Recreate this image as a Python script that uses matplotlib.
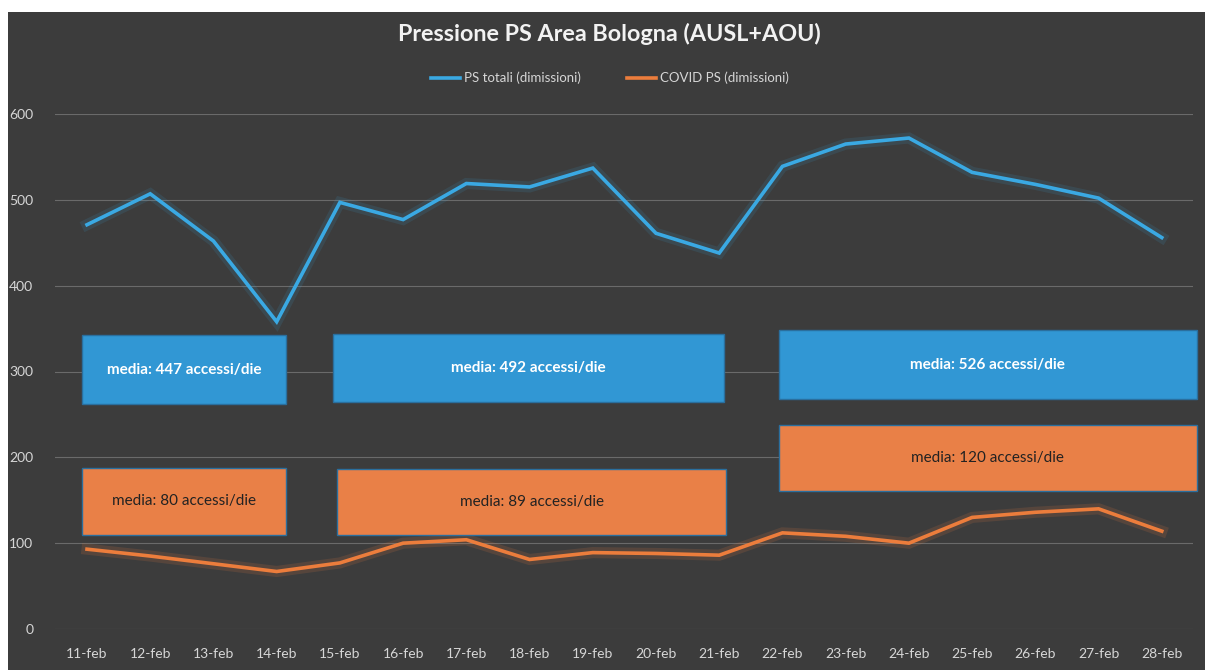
import matplotlib
matplotlib.use("Agg")
import matplotlib.pyplot as plt
from matplotlib.patches import Rectangle

# data
days = ["11-feb", "12-feb", "13-feb", "14-feb", "15-feb", "16-feb", "17-feb", "18-feb", "19-feb",
        "20-feb", "21-feb", "22-feb", "23-feb", "24-feb", "25-feb", "26-feb", "27-feb", "28-feb"]
ps_totali = [471, 507, 452, 358, 497, 477, 519, 515, 537, 461, 438, 539, 565, 572, 532, 518, 502, 456]
covid_ps = [93, 85, 76, 67, 77, 100, 104, 81, 89, 88, 86, 112, 108, 100, 130, 136, 140, 114]

media_totali = [447, 492, 526]
media_covid = [80, 89, 120]
yticks = [0, 100, 200, 300, 400, 500, 600]

plt.rcParams['font.family'] = ['Lato', 'DejaVu Sans']

BG = '#3c3c3c'
BLUE = '#3aa9e3'
ORANGE = '#ec7d3c'
BOX_BLUE = '#3197d4'
BOX_ORANGE = '#e98047'
TXT = '#d6d6d6'

fig = plt.figure(figsize=(12.05, 6.7), dpi=100, facecolor='white')
fig.patches.append(Rectangle((8 / 1205, 0), 1, 1 - 12 / 670, transform=fig.transFigure,
                             facecolor=BG, edgecolor='none', zorder=-10))

ax = fig.add_axes([55.4 / 1205, 1 - 629 / 670, 1138 / 1205, 515 / 670])
ax.set_facecolor('none')
x = list(range(len(days)))

# soft glow under the lines, like the Excel effect
ax.plot(x, ps_totali, color=BLUE, lw=8, alpha=0.12, solid_joinstyle='miter', zorder=3)
ax.plot(x, covid_ps, color=ORANGE, lw=8, alpha=0.15, solid_joinstyle='miter', zorder=3)
ax.plot(x, ps_totali, color=BLUE, lw=2.6, solid_joinstyle='miter', zorder=4, label='PS totali (dimissioni)')
ax.plot(x, covid_ps, color=ORANGE, lw=2.6, solid_joinstyle='miter', zorder=4, label='COVID PS (dimissioni)')

ax.set_xlim(-0.5, 17.5)
ax.set_ylim(0, 600)
ax.set_yticks(yticks)
ax.set_xticks(x)
ax.set_xticklabels(days)
ax.grid(axis='y', color='#8a8a8a', lw=0.8, alpha=0.6)
ax.set_axisbelow(True)
for s in ax.spines.values():
    s.set_visible(False)
ax.tick_params(length=0, colors=TXT, labelsize=10)
ax.tick_params(axis='x', pad=14)
ax.tick_params(axis='y', pad=16)

# average boxes: (x0, x1) in category units, per period
blue_boxes = [(-0.08, 3.15, 262, 342), (3.89, 10.08, 265, 344), (10.95, 17.55, 268, 348)]
orange_boxes = [(-0.08, 3.15, 110, 188), (3.96, 10.11, 109, 186), (10.95, 17.55, 161, 238)]

for (x0, x1, y0, y1), m in zip(blue_boxes, media_totali):
    ax.add_patch(Rectangle((x0, y0), x1 - x0, y1 - y0, facecolor=BOX_BLUE, edgecolor='#2a6f9e',
                           lw=1, zorder=5, clip_on=False))
    ax.text((x0 + x1) / 2, (y0 + y1) / 2, f"media: {m} accessi/die", color='white',
            fontsize=11, fontweight='bold', ha='center', va='center', zorder=6)
for (x0, x1, y0, y1), m in zip(orange_boxes, media_covid):
    ax.add_patch(Rectangle((x0, y0), x1 - x0, y1 - y0, facecolor=BOX_ORANGE, edgecolor='#2a6f9e',
                           lw=1, zorder=5, clip_on=False))
    ax.text((x0 + x1) / 2, (y0 + y1) / 2, f"media: {m} accessi/die", color='#222222',
            fontsize=11, ha='center', va='center', zorder=6)

fig.text(0.506, 1 - 34 / 670, "Pressione PS Area Bologna (AUSL+AOU)", color='#f2f2f2',
         fontsize=16.8, fontweight='bold', ha='center', va='center')
fig.legend(loc='center', bbox_to_anchor=(0.506, 1 - 78 / 670), ncol=2, frameon=False,
           fontsize=9.5, labelcolor=TXT, handlelength=2.2, columnspacing=3.5, handletextpad=0.3)

fig.savefig("out.png", dpi=100, facecolor=fig.get_facecolor())
